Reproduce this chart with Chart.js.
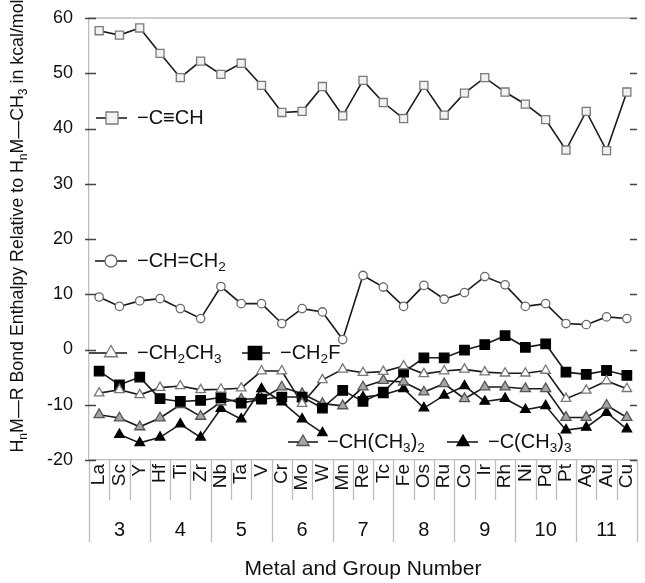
<!DOCTYPE html>
<html>
<head>
<meta charset="utf-8">
<script src="https://cdn.jsdelivr.net/npm/chart.js@4/dist/chart.umd.min.js"></script>
<style>
  html, body { margin: 0; padding: 0; background: #fff; }
</style>
</head>
<body>
<canvas id="chart" width="645" height="583"></canvas>
<script>
const metals = ['La', 'Sc', 'Y', 'Hf', 'Ti', 'Zr', 'Nb', 'Ta', 'V', 'Cr', 'Mo', 'W', 'Mn', 'Re', 'Tc',
  'Fe', 'Os', 'Ru', 'Co', 'Ir', 'Rh', 'Ni', 'Pd', 'Pt', 'Ag', 'Au', 'Cu'];
const groupNumbers = ['3', '4', '5', '6', '7', '8', '9', '10', '11'];
const metalsPerGroup = 3;
const yTicks = [-20, -10, 0, 10, 20, 30, 40, 50, 60];

const ethynyl = [57.7, 56.9, 58.2, 53.6, 49.2, 52.2, 49.8, 51.8, 47.8, 42.9, 43.1, 47.6, 42.3, 48.7,
  44.7, 41.8, 47.8, 42.4, 46.4, 49.2, 46.6, 44.4, 41.6, 36.1, 43.1, 36.0, 46.6];
const vinyl = [9.5, 7.8, 8.8, 9.2, 7.4, 5.6, 11.4, 8.3, 8.3, 4.7, 7.4, 6.8, 1.8, 13.4,
  11.3, 7.8, 11.6, 9.1, 10.3, 13.2, 11.7, 7.8, 8.3, 4.7, 4.5, 5.9, 5.6];
const ethyl = [-7.9, -7.3, -8.2, -6.9, -6.6, -7.3, -7.2, -7.0, -3.9, -3.9, -9.8, -5.5, -3.6, -4.2,
  -4.0, -3.0, -4.4, -3.9, -3.6, -4.1, -4.3, -4.3, -3.8, -8.9, -7.4, -5.7, -7.1];
const fluoromethyl = [-3.9, -6.4, -5.0, -8.9, -9.4, -9.2, -8.7, -9.7, -9.0, -8.6, -8.6, -10.6, -7.4, -9.4,
  -7.7, -4.1, -1.5, -1.5, -0.1, 0.9, 2.5, 0.4, 1.0, -4.1, -4.5, -3.8, -4.7];
const isopropyl = [-11.8, -12.4, -14.0, -12.4, -10.0, -12.1, -9.5, -9.0, -8.9, -6.8, -8.0, -9.8, -10.2, -6.8,
  -5.6, -5.9, -7.7, -6.2, -8.9, -6.8, -6.8, -7.1, -7.1, -12.3, -12.3, -10.1, -12.3];
const tertButyl = [null, -15.4, -16.9, -15.9, -13.5, -15.9, -10.7, -12.6, -7.1, -9.5, -12.6, -15.1, null, -8.6,
  -8.2, -7.1, -10.6, -8.3, -6.6, -9.4, -8.9, -10.9, -10.2, -14.6, -14.1, -11.4, -14.4];

const FONT = 'Liberation Sans, Arial, sans-serif';
const INK = '#111';
const RULE = '#bdbdbd';

const series = [
  { data: ethynyl, style: 'rect', r: 5.7, fill: '#f2f2f2', edge: '#7a7a7a' },
  { data: vinyl, style: 'circle', r: 4.2, fill: '#fff', edge: '#6a6a6a' },
  { data: ethyl, style: 'triangle', r: 5.5, fill: '#fff', edge: '#777' },
  { data: fluoromethyl, style: 'rect', r: 6.7, fill: '#000', edge: '#000' },
  { data: isopropyl, style: 'triangle', r: 5.8, fill: '#a6a6a6', edge: '#555' },
  { data: tertButyl, style: 'triangle', r: 5.5, fill: '#000', edge: '#000' },
];

// text with subscripts: parts are [text, isSub]
function drawRich(ctx, parts, x, y, size) {
  ctx.textBaseline = 'middle';
  ctx.textAlign = 'left';
  let cx = x;
  parts.forEach(([txt, sub]) => {
    const s = sub ? size * 0.68 : size;
    ctx.font = s + 'px ' + FONT;
    ctx.fillText(txt, cx, sub ? y + size * 0.3 : y);
    cx += ctx.measureText(txt).width;
  });
  return cx - x;
}

function richWidth(ctx, parts, size) {
  let w = 0;
  parts.forEach(([txt, sub]) => {
    ctx.font = (sub ? size * 0.68 : size) + 'px ' + FONT;
    w += ctx.measureText(txt).width;
  });
  return w;
}

const legendItems = [
  { s: 0, x0: 96, x1: 127, cx: 112, y: 118, r: 8.5, tx: 137, parts: [['\u2212C\u2261CH', 0]] },
  { s: 1, x0: 95, x1: 127, cx: 111, y: 261, r: 6, tx: 137, parts: [['\u2212CH=CH', 0], ['2', 1]] },
  { s: 2, x0: 89, x1: 127, cx: 111, y: 353, r: 7.5, tx: 137, parts: [['\u2212CH', 0], ['2', 1], ['CH', 0], ['3', 1]] },
  { s: 3, x0: 242, x1: 270, cx: 255, y: 353, r: 9.5, tx: 280, parts: [['\u2212CH', 0], ['2', 1], ['F', 0]] },
  { s: 4, x0: 288, x1: 318, cx: 303, y: 442, r: 7, tx: 327, parts: [['\u2212CH(CH', 0], ['3', 1], [')', 0], ['2', 1]] },
  { s: 5, x0: 447, x1: 478, cx: 463, y: 442, r: 7, tx: 488, parts: [['\u2212C(CH', 0], ['3', 1], [')', 0], ['3', 1]] },
];

const decorations = {
  id: 'decorations',
  afterDraw(chart) {
    const { ctx, chartArea: area, scales: { x, y } } = chart;
    const w = x.width / metals.length;
    ctx.save();

    // frame top and category separators below the axis
    ctx.strokeStyle = RULE;
    ctx.lineWidth = 1.3;
    ctx.beginPath();
    ctx.moveTo(area.left, area.top);
    ctx.lineTo(area.right, area.top);
    for (let k = 0; k <= metals.length; k++) {
      const px = Math.round(x.left + k * w) + 0.5;
      ctx.moveTo(px, area.bottom);
      ctx.lineTo(px, area.bottom + (k % metalsPerGroup === 0 ? 82 : 40));
    }
    ctx.stroke();

    // y tick marks, left and right
    ctx.strokeStyle = '#444';
    ctx.lineWidth = 1.4;
    ctx.beginPath();
    yTicks.forEach(v => {
      const py = Math.round(y.getPixelForValue(v)) + 0.5;
      ctx.moveTo(area.left - 4, py);
      ctx.lineTo(area.left + 7, py);
      ctx.moveTo(area.right - 7, py);
      ctx.lineTo(area.right, py);
    });
    ctx.stroke();

    // group numbers
    ctx.fillStyle = INK;
    ctx.font = '20px ' + FONT;
    ctx.textAlign = 'center';
    ctx.textBaseline = 'middle';
    groupNumbers.forEach((g, i) => {
      const mid = x.getPixelForValue(i * metalsPerGroup + 1);
      ctx.fillText(g, mid, area.bottom + 70);
    });

    // y title, rotated
    const title = [['H', 0], ['n', 1], ['M\u2014R Bond Enthalpy Relative to H', 0], ['n', 1],
      ['M\u2014CH', 0], ['3', 1], [' in kcal/mol', 0]];
    const tsize = 17.8;
    ctx.save();
    ctx.translate(18, 226);
    ctx.rotate(-Math.PI / 2);
    drawRich(ctx, title, -richWidth(ctx, title, tsize) / 2, 0, tsize);
    ctx.restore();

    // in-plot legend labels
    legendItems.forEach(it => {
      const s = series[it.s];
      ctx.strokeStyle = INK;
      ctx.lineWidth = 1.5;
      ctx.beginPath();
      ctx.moveTo(it.x0, it.y);
      ctx.lineTo(it.x1, it.y);
      ctx.stroke();
      ctx.fillStyle = s.fill;
      ctx.strokeStyle = s.edge;
      ctx.lineWidth = 1.3;
      Chart.helpers.drawPoint(ctx, { pointStyle: s.style, radius: it.r, rotation: 0, borderWidth: 1.3 }, it.cx, it.y);
      ctx.fillStyle = INK;
      drawRich(ctx, it.parts, it.tx, it.y, 20);
    });
    ctx.restore();
  },
};

new Chart(document.getElementById('chart'), {
  type: 'line',
  data: {
    labels: metals,
    datasets: series.map(s => ({
      data: s.data,
      borderColor: '#1a1a1a',
      borderWidth: 1.6,
      pointStyle: s.style,
      pointRadius: s.r,
      pointBackgroundColor: s.fill,
      pointBorderColor: s.edge,
      pointBorderWidth: 1.3,
      spanGaps: false,
      tension: 0,
    })),
  },
  options: {
    responsive: false,
    animation: false,
    devicePixelRatio: 1,
    layout: { padding: { top: 18, right: 0, bottom: 0, left: 0 } },
    plugins: { legend: { display: false }, tooltip: { enabled: false } },
    scales: {
      x: {
        type: 'category',
        offset: true,
        grid: { display: false, drawTicks: false },
        border: { display: true, color: RULE, width: 1.3 },
        ticks: {
          color: INK,
          font: { family: FONT, size: 19 },
          minRotation: 90,
          maxRotation: 90,
          autoSkip: false,
          padding: 4,
        },
        title: {
          display: true,
          text: 'Metal and Group Number',
          color: INK,
          font: { family: FONT, size: 21 },
          padding: { top: 0, bottom: 1 },
        },
        afterFit: s => {
          s.height = 123;
          s.paddingLeft = 0;
          s.paddingRight = 0;
        },
      },
      y: {
        min: -20,
        max: 60,
        grid: { display: false, drawTicks: false },
        border: { display: true, color: RULE, width: 1.3 },
        ticks: {
          stepSize: 10,
          color: INK,
          font: { family: FONT, size: 18 },
          padding: 16,
        },
        afterFit: s => {
          s.width = 89;
          s.paddingTop = 0;
          s.paddingBottom = 0;
        },
      },
    },
  },
  plugins: [decorations],
});
</script>
</body>
</html>
